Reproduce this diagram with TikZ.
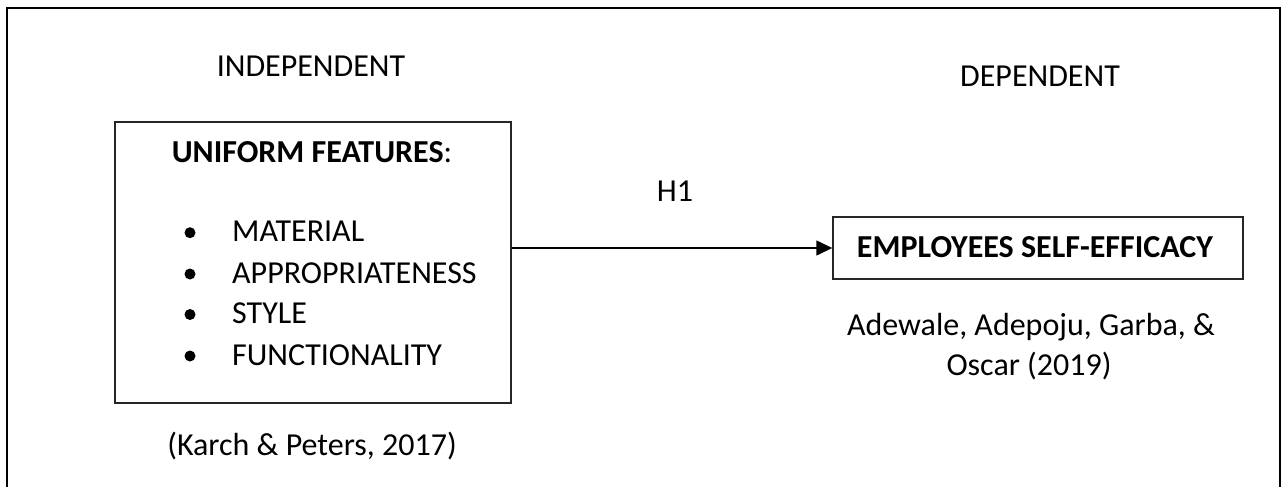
\documentclass[tikz,border=0pt]{standalone}
\usepackage{fontspec}
\setmainfont{Carlito}
\usetikzlibrary{arrows.meta}
\begin{document}
\begin{tikzpicture}[x=1pt,y=-1pt,
  txt/.style={inner sep=0pt, anchor=base, font=\fontsize{32}{39}\selectfont},
  itm/.style={inner sep=0pt, anchor=base west, font=\fontsize{32}{39}\selectfont},
  box/.style={draw=black!85, line width=1.4pt, inner sep=0pt},
  bul/.style={circle, fill=black, inner sep=0pt, minimum size=11pt},
  frame/.style={line width=2.6pt, line cap=butt},
  conn/.style={line width=1.4pt, -{Triangle[length=16pt,width=15pt]}}]
\useasboundingbox (0,0) rectangle (1283,487);
\draw[frame] (7,487) -- (7,8) -- (1280,8) -- (1280,487);
% boxes
\node[box, minimum width=396pt, minimum height=281pt] (uf) at (313,262.5) {};
\node[box, minimum width=410pt, minimum height=62pt] (ese) at (1038,248) {};
% labels
\node[txt] (indep) at (311,77) {INDEPENDENT};
\node[txt] (dep) at (1040,86) {DEPENDENT};
\node[txt] (h1) at (675,201) {H1};
\node[txt] (uft) at (312,162) {\textbf{UNIFORM FEATURES}:};
\node[itm] (i1) at (232,241.7) {MATERIAL};
\node[itm] (i2) at (232,283) {APPROPRIATENESS};
\node[itm] (i3) at (232,323.5) {STYLE};
\node[itm] (i4) at (232,365) {FUNCTIONALITY};
\node[bul] (b1) at (190,232.7) {};
\node[bul] (b2) at (190,274) {};
\node[bul] (b3) at (190,314.5) {};
\node[bul] (b4) at (190,356) {};
\node[txt] (eset) at (1035,257) {\textbf{EMPLOYEES SELF-EFFICACY}};
\node[txt] (ref1a) at (1031,335) {Adewale, Adepoju, Garba, \&};
\node[txt] (ref1b) at (1029,375) {Oscar (2019)};
\node[txt] (ref2) at (312,455) {(Karch \& Peters, 2017)};
% connector
\draw[conn] (uf.east |- ese.west) -- (ese.west);
\end{tikzpicture}
\end{document}
